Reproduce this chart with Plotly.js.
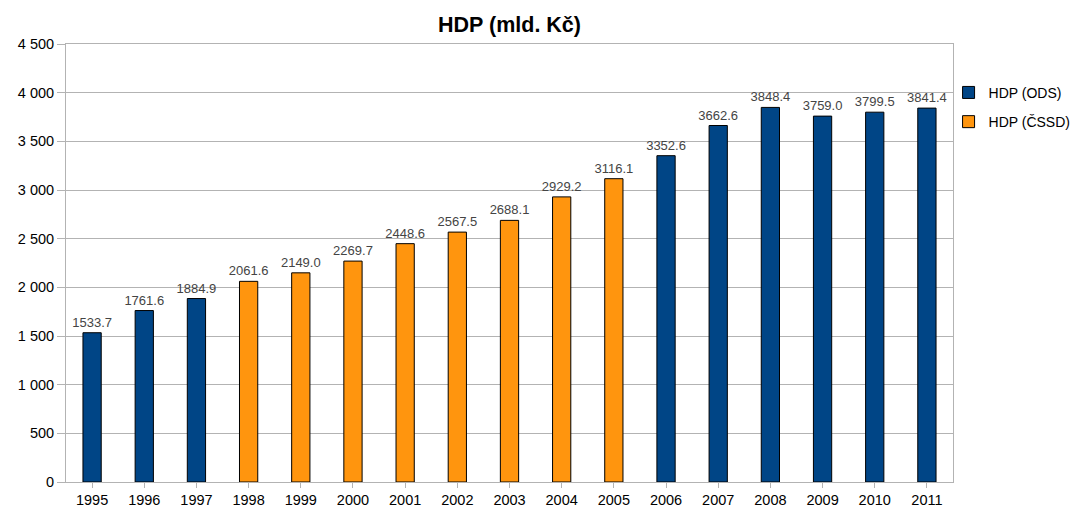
<!DOCTYPE html>
<html>
<head>
<meta charset="utf-8">
<script src="https://cdn.plot.ly/plotly-3.0.1.min.js"></script>
<style>html,body{margin:0;padding:0;background:#fff;}#chart{width:1075px;height:513px;}</style>
</head>
<body>
<div id="chart"></div>
<script>
const years = ["1995","1996","1997","1998","1999","2000","2001","2002","2003","2004","2005","2006","2007","2008","2009","2010","2011"];
const hdpODS = [1533.7,1761.6,1884.9,null,null,null,null,null,null,null,null,3352.6,3662.6,3848.4,3759.0,3799.5,3841.4];
const hdpCSSD = [null,null,null,2061.6,2149.0,2269.7,2448.6,2567.5,2688.1,2929.2,3116.1,null,null,null,null,null,null];
const yTicks = [0,500,1000,1500,2000,2500,3000,3500,4000,4500];

const common = {
  type: 'bar',
  x: years,
  width: 0.35,
  texttemplate: '%{y:.1f}',
  textposition: 'outside',
  constraintext: 'none',
  cliponaxis: false,
  textfont: {family: 'Liberation Sans, Arial, sans-serif', size: 13, color: '#444444'},
  hoverinfo: 'x+y'
};
const traces = [
  Object.assign({}, common, {name: 'HDP (ODS)', legendgroup: 'a', y: hdpODS, marker: {color: '#004586', line: {color: '#000000', width: 1}}}),
  Object.assign({}, common, {name: 'HDP (ČSSD)', legendgroup: 'b', y: hdpCSSD, marker: {color: '#ff950e', line: {color: '#000000', width: 1}}})
];
const layout = {
  width: 1075, height: 513,
  margin: {l: 66, r: 122, t: 43.5, b: 31, autoexpand: false},
  paper_bgcolor: '#ffffff', plot_bgcolor: '#ffffff',
  font: {family: 'Liberation Sans, Arial, sans-serif', size: 14, color: '#000000'},
  separators: '. ',
  title: {text: '<b>HDP (mld. Kč)</b>', font: {size: 21.5, color: '#000000'}, xref: 'paper', x: 0.5, xanchor: 'center', yref: 'container', y: 0.953, yanchor: 'middle'},
  barmode: 'overlay',
  showlegend: true,
  legend: {x: 0.995, xanchor: 'left', y: 0.925, yanchor: 'top', font: {size: 14}, itemwidth: 30, traceorder: 'grouped', tracegroupgap: 8, bgcolor: 'rgba(0,0,0,0)'},
  xaxis: {
    type: 'category',
    showgrid: false,
    showline: true, linecolor: '#b3b3b3', linewidth: 1, mirror: true,
    ticks: 'outside', ticklen: 5, tickcolor: '#b3b3b3',
    tickfont: {size: 14.5, color: '#000000'},
    zeroline: false
  },
  yaxis: {
    range: [0, 4500],
    tickvals: yTicks,
    tickformat: ',',
    showgrid: true, gridcolor: '#b3b3b3', gridwidth: 1,
    showline: true, linecolor: '#b3b3b3', linewidth: 1, mirror: true,
    ticks: 'outside', ticklen: 8, tickcolor: '#b3b3b3',
    tickfont: {size: 14.5, color: '#000000'},
    zeroline: false
  }
};
Plotly.newPlot('chart', traces, layout, {staticPlot: true, displayModeBar: false});
</script>
</body>
</html>
